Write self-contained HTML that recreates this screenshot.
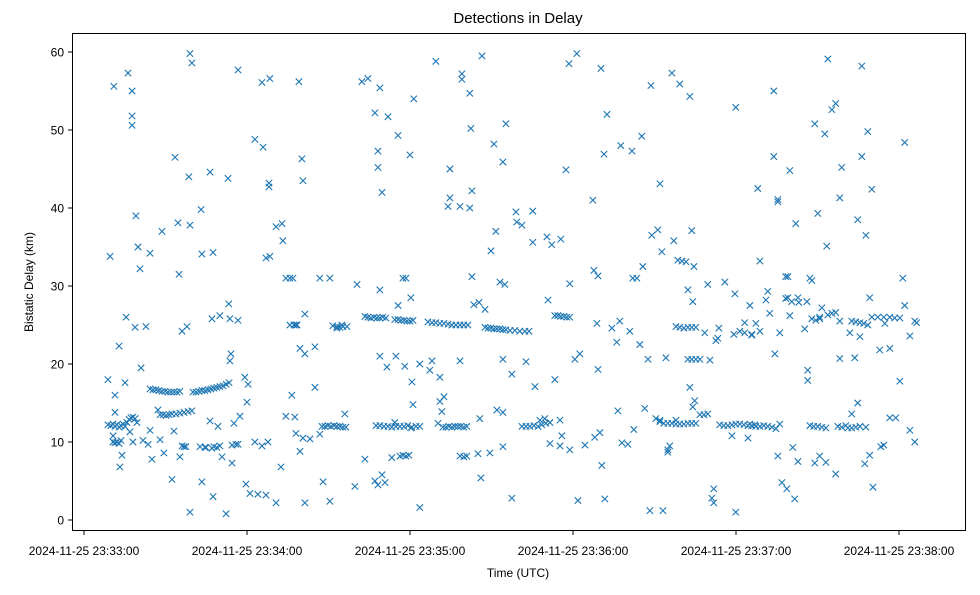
<!DOCTYPE html>
<html><head><meta charset="utf-8"><style>
body{margin:0;background:#fff;}
svg text{font-family:"Liberation Sans",sans-serif;fill:#000;}
</style></head><body>
<svg id="chart" width="980" height="590" xmlns="http://www.w3.org/2000/svg">
<rect width="980" height="590" fill="#fff"/>
<text x="518" y="23" font-size="15" text-anchor="middle">Detections in Delay</text>
<text x="518" y="577" font-size="12" text-anchor="middle">Time (UTC)</text>
<text transform="translate(33,282) rotate(-90)" font-size="12" text-anchor="middle">Bistatic Delay (km)</text>
<g id="marks"></g>
<g id="axes"></g>
<rect x="72.5" y="33.5" width="893" height="497" fill="none" stroke="#000" stroke-width="1"/>
</svg>
<script>
// seconds after 2024-11-25 23:33:00 UTC
const times=[
8.8,9.6,11,12.9,15.1,15.5,16.2,17.7,17.7,17.7,19.1,19.9,20.6,18.8,22.8,24.3,28.7,33.5,34.6,35,
36.1,37.9,38.6,39,39.7,39,43.1,43.4,46.4,47.5,47.1,50,53,53.3,53.7,54.1,53.7,56.7,56.7,62.9,
65.5,65.9,67,68.1,68.1,68.4,68.4,70.7,72.9,73.2,74.3,75.8,76.9,77.3,78.4,79.1,80.2,80.6,81.3,79.5,
81.3,85,86.8,90.5,93.1,94.9,100.5,102.3,104.5,107.1,108.2,108.2,108.9,109.7,111.9,108.9,115.6,115.6,117.4,118.5,
120,120.3,121.4,123.6,127.3,128.1,129.5,134,134.7,134.7,138.4,139.1,139.1,142,142,142.8,142.4,142.8,146.5,145.4,
147.6,149.8,150.9,151.6,154.2,155.3,153.1,154.9,159,159.3,161.2,165.2,165.2,170.4,172.2,175.5,170.8,177.4,178.5,181.4,
178.8,187.3,187.7,189.2,190.3,191.4,192.5,197.6,201.7,202,203.5,205.3,205.7,208.7,209,211.2,212,212.7,216.4,217.1,
219.3,222.3,223,223.7,224.5,224.1,229.6,233.7,235.9,239.6,239.9,248,248.8,251,251.7,253.9,253.9,255.4,255.4,258.3,
259.1,259.1,259.8,262,262.8,266.1,267.2,267.9,269,270.1,271.6,272.7,273.4,273.8,275.3,276.7,278.2,278.9,284.8,286.3,
286.3,287.8,288.5,290,289.2,301.4,302.1,302.1,304,285.6,283.7,254.3,265.3,270.8,278.2,281.9,292.9,296.6,294.8,245.8,
248.8,256.1,259.8,252.4,243.2,245.1,232.6,233.3,228.5,200.9,194.3,197.2,204.6,196.1,188.8,182.5,180.7,189.2,190.6,188,
189.9,191.7,181.8,175.2,184.4,178.8,175.9,175.2,171.5,166,162.7,157.5,154.2,152,154.2,157.5,154.2,149.4,146.1,145,
145.7,143.5,138.4,131,131,132.5,131.7,130.3,123.6,121.1,120.7,120.3,118.1,114.8,114.4,111.5,108.9,107.1,108.2,109.7,
110.8,113.3,103.4,99.7,96,90.5,88,86.8,85,83.2,80.6,81.3,79.5,78,77.6,76.5,74.3,72.5,70.7,67.7,
67,64,65.5,62.9,61.1,59.6,60,60.4,59.2,57.4,55.9,54.5,55.2,52.3,50.8,49.3,47.5,46.4,44.5,43.4,
39,36.8,35.3,33.1,32.4,29.4,28,27.2,25,24.3,23.6,21.7,21,19.5,18,16.9,14,13.2,11.4,10.7,
11.4,167.8,169.6,173.3,196.5,198,200.2,202.4,206.4,208.3,213.1,212,214.9,217.9,223,224.1,224.8,215.6,214.9,231.1,
231.8,231.8,238.5,239.9,239.2,244.4,255.4,256.9,258.7,261.6,260.9,262.8,266.4,266.4,269,270.8,273.1,276.7,280.4,282.6,
287.4,289.2,290.4,293.3,294.4,296.6,298.8,300.3,304,305.8,284.8,287.8,300.3,306.5,305.8,230.4,245.1,256.1,246.9,
8.8,9.9,10.7,11.4,12.1,12.9,13.6,14.4,15.1,15.8,16.6,17.3,18,18.8,10.7,11.4,12.1,12.9,13.6,
24.3,25.4,26.5,27.6,28.7,29.8,30.9,32,33.1,34.2,35.3,40.1,41.2,42.3,43.4,44.5,45.6,46.7,47.8,48.9,50,51.2,52.3,53.4,
28,29.1,30.2,31.3,32.4,33.9,35.3,36.8,38.3,39.7,
36.1,37.5,42.7,44.9,47.1,47.8,48.9,50,54.5,56.7,
87.6,88.7,89.8,90.9,92,93.1,94.2,95.3,96.4,
91.6,93.1,94.2,95.3,96.8,75.8,78,
103.4,104.5,105.6,106.7,107.8,108.9,110,111.1,114.4,115.6,116.7,117.8,118.9,120,121.1,
107.5,108.9,110.4,111.9,113.3,114.8,116.3,117.8,119.2,120.7,122.2,123.6,
126.6,128.1,129.5,131,132.5,134,135.4,136.9,138.4,139.8,141.3,
132.1,133.2,134.3,135.4,136.5,137.6,138.7,139.8,140.9,
138.4,139.8,140.9,
147.6,148.7,149.8,150.9,152,153.1,154.2,155.3,156.8,158.6,160.4,162.3,163.8,
161.2,162.7,164.1,165.6,167.1,168.5,170,171.5,
173.3,174.4,175.5,176.6,177.7,178.8,
116.3,117.4,118.5,119.6,
210.5,212,213.4,214.9,216.4,217.9,219.3,220.8,222.3,223.7,225.2,226.7,228.2,229.6,
234,235.5,237,238.5,239.9,241.4,242.9,244.4,245.8,247.3,248.8,250.2,251.7,253.2,254.7,
214.2,222.3,223.7,225.2,226.7,207.6,
217.9,219.3,220.8,222.3,223.7,225.2,
218.6,220.1,221.6,
267.9,269.4,270.8,273.8,275.3,276.7,278.2,282.6,284.1,285.6,287,288.5,290,292.2,294.4,296.6,298.4,
267.2,268.6,270.1,271.6,273.1,277.5,278.9,281.2,282.6,284.1,285.6,
258.3,260.5,263.1,
241.4,243.2,245.8,247.3
];
// bistatic delay in km
const delays=[
18,33.8,55.6,22.3,17.6,26,57.3,55,51.8,50.6,39,35,32.2,24.7,24.8,34.2,37,46.5,38.1,31.5,
24.2,24.8,44,59.8,58.6,37.8,39.8,34.1,44.6,34.3,25.8,26.2,43.8,27.7,25.8,21.3,20.4,25.6,57.7,48.8,
56.1,47.8,33.6,43.2,42.7,56.6,33.8,37.6,38,35.8,31,31,31,25,25,56.2,46.3,43.5,26.4,22,
21.3,22.2,31,31,24.6,25,30.2,56.2,56.6,52.2,47.3,45.2,55.4,42,51.7,29.5,49.3,27.5,31,31,
46.8,28.5,54,20,19.2,20.4,58.8,40.2,41.3,45,40.2,57.2,56.5,40,54.7,42.2,50.2,31.2,59.5,27.9,
27,34.5,48.2,37,45.9,50.8,30.5,30.2,39.5,38.2,37.8,39.6,35.6,36.3,35.3,36,28.2,44.9,58.5,59.8,
30.3,41,32,31.3,57.9,46.9,52,48,47.3,31,31,49.2,32.5,55.7,36.5,37.2,43.1,34.4,57.3,35.8,
55.9,29.5,54.3,37.1,32.5,28,30.2,24.6,30.5,29,52.9,42.5,33.2,28.2,29.3,46.6,55,40.8,41.1,31.2,
31.2,28.5,44.8,38,28.5,28,31,30.7,50.8,39.3,27.2,49.5,35.1,59.1,52.6,53.4,41.3,45.2,38.5,58.2,
46.6,36.5,49.8,42.4,28.5,31,27.5,48.4,23.6,23.5,20.8,21.3,24.5,26,20.7,24,21.8,22,25.2,23.7,
24.2,24,26.2,26.5,25.3,27.5,23,23.3,24,24.2,24.6,25.5,22.5,22.8,25.2,21.3,20.6,19.3,7,10.6,
11.2,2.7,2.5,9.5,9.6,9,10.8,12.8,9.8,17.1,20.3,18.7,20.6,14.1,13.8,2.8,9.4,8.6,5.4,8.5,
13,27.6,20.4,18.3,15.2,15.8,13.9,12.4,1.6,14.8,17.7,11.8,19.7,21,12.5,19.6,21,5,4.5,5.8,
4.8,8,7.8,4.3,13.6,2.4,4.9,11,17,10.4,10.5,2.2,8.8,11.1,13.2,16,13.3,6.8,2.2,10,
3.2,3.3,9.5,10,3.4,4.6,15.1,17.4,18.3,13.3,9.7,7.3,12.4,0.8,8.1,12,3,12.7,9.3,4.9,
1,9.4,8.1,11.4,5.2,8.6,10.3,14.1,7.8,11.5,9.7,10.2,19.5,12.5,10,11.3,8.3,6.8,13.8,10.8,
16,12.8,13,18,14,9.9,9.7,11.6,14.3,1.2,1.2,12.8,8.7,12.8,17,14.5,15.3,9.5,9,2.8,
4,2.2,10.8,1,23.8,10.5,8.2,4.8,4,2.7,9.3,7.5,19.2,17.9,7.3,8.2,7.4,5.9,12.1,13.6,
7.2,8.3,4.2,9.4,9.6,13.1,13.1,17.8,11.5,10,15,11.9,25.9,25.3,25.5,20.5,12.3,12.3,12.2,
12.2,12.1,12.3,12,12.2,11.9,12.1,12.3,12,12.5,12.9,13.1,13.2,13,10,9.9,10,9.8,10.2,
16.8,16.7,16.7,16.6,16.5,16.5,16.4,16.4,16.4,16.4,16.5,16.4,16.4,16.5,16.6,16.6,16.7,16.8,16.9,17,17.1,17.2,17.4,17.6,
13.5,13.5,13.4,13.5,13.6,13.6,13.7,13.8,13.9,14,
9.5,9.4,9.4,9.3,9.2,9.4,9.3,9.5,9.6,9.7,
12,12,12.1,12,12.1,12,12,11.9,11.9,
24.9,24.8,24.7,24.8,24.8,25,25,
26.1,26,25.9,26,25.9,25.9,26,25.9,25.7,25.7,25.6,25.6,25.5,25.5,25.6,
12.1,12.1,12,12,11.9,12,12,12,12.1,11.9,12,12,
25.4,25.3,25.3,25.2,25.2,25.1,25,25,25,25,25,
11.9,11.9,12,11.9,12,12,12,11.9,12,
8.2,8.1,8.2,
24.7,24.6,24.6,24.5,24.5,24.5,24.4,24.4,24.3,24.3,24.2,24.2,24.2,
12,12,12,12.1,12,12.2,12.4,12.5,
26.2,26.2,26.1,26.1,26,26,
8.2,8.3,8.2,8.3,
13,12.6,12.4,12.4,12.4,12.3,12.3,12.3,12.4,12.4,12.4,13.5,13.5,13.6,
12.2,12.1,12.1,12.2,12.3,12.3,12.2,12.1,12.1,12,12,12.1,12,11.9,11.7,
20.8,20.6,20.6,20.6,20.6,20.6,
24.8,24.7,24.6,24.7,24.7,24.7,
33.3,33.2,33.1,
25.8,25.6,25.8,26.3,26.5,26.6,25.5,25.5,25.4,25.3,25.2,25,26,26,26,26,25.9,
12.1,12,12,11.9,11.8,12,11.9,11.8,11.8,11.9,12,
28.4,28,27.9,
24.2,24,23.8,25.2
];
const yTicks=[0,10,20,30,40,50,60];
const xTickSeconds=[0,60,120,180,240,300];
const xTickLabels=["2024-11-25 23:33:00","2024-11-25 23:34:00","2024-11-25 23:35:00","2024-11-25 23:36:00","2024-11-25 23:37:00","2024-11-25 23:38:00"];

const NS="http://www.w3.org/2000/svg";
function xScale(s){return 84+s*(163/60);}
function yScale(v){return 520-v*7.8;}
const marks=document.getElementById('marks');
const axes=document.getElementById('axes');
const n=Math.min(times.length,delays.length);
for(let i=0;i<n;i++){
  const cx=xScale(times[i]),cy=yScale(delays[i]),r=3.2;
  const p=document.createElementNS(NS,'path');
  p.setAttribute('d',`M${cx-r},${cy-r}L${cx+r},${cy+r}M${cx-r},${cy+r}L${cx+r},${cy-r}`);
  p.setAttribute('stroke','#1f77b4');
  p.setAttribute('stroke-width','1.1');
  p.setAttribute('fill','none');
  
  
  marks.appendChild(p);
}
yTicks.forEach(v=>{
  const y=yScale(v);
  const l=document.createElementNS(NS,'line');
  l.setAttribute('x1',68);l.setAttribute('x2',72.5);l.setAttribute('y1',y);l.setAttribute('y2',y);
  l.setAttribute('stroke','#000');
  
  
  axes.appendChild(l);
  const t=document.createElementNS(NS,'text');
  t.setAttribute('x',64);t.setAttribute('y',y+4.5);t.setAttribute('font-size','12');t.setAttribute('text-anchor','end');
  t.textContent=v;
  
  
  axes.appendChild(t);
});
xTickSeconds.forEach((s,i)=>{
  const x=xScale(s);
  const l=document.createElementNS(NS,'line');
  l.setAttribute('x1',x);l.setAttribute('x2',x);l.setAttribute('y1',530.5);l.setAttribute('y2',535);
  l.setAttribute('stroke','#000');
  
  
  axes.appendChild(l);
  const t=document.createElementNS(NS,'text');
  t.setAttribute('x',x);t.setAttribute('y',555);t.setAttribute('font-size','12');t.setAttribute('text-anchor','middle');
  t.textContent=xTickLabels[i];
  
  
  axes.appendChild(t);
});
</script>
</body></html>
